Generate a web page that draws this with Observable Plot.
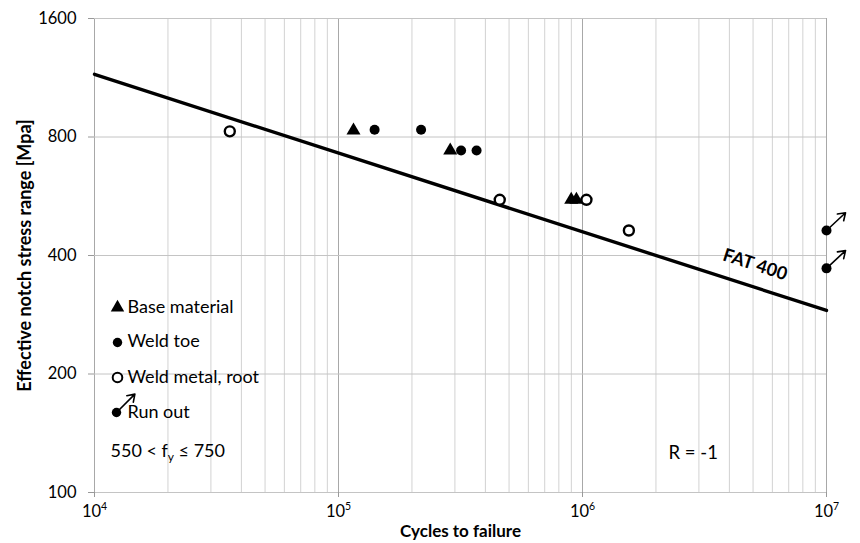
<!DOCTYPE html>
<html><head><meta charset="utf-8">
<script src="https://cdn.jsdelivr.net/npm/d3@7"></script>
<script src="https://cdn.jsdelivr.net/npm/@observablehq/plot@0.6"></script>
<style>html,body{margin:0;padding:0;background:#fff;}</style>
</head><body><div id="chart"></div>
<script>
// ---- data ----
const baseN = [115200, 287000, 899000, 944000];
const baseS = [831, 739, 554, 554];
const toeN = [140600, 218000, 318000, 368000];
const toeS = [835, 835, 739, 739];
const rootN = [35850, 458000, 1038000, 1549000];
const rootS = [827, 554, 554, 463];
const runoutN = [1e7, 1e7];
const runoutS = [463, 371];
const fatN = [1e4, 1e7];
const fatS = [1154, 290];
const xDecades = [1e4, 1e5, 1e6, 1e7];
const xMinor = [2e4,3e4,4e4,5e4,6e4,7e4,8e4,9e4,2e5,3e5,4e5,5e5,6e5,7e5,8e5,9e5,2e6,3e6,4e6,5e6,6e6,7e6,8e6,9e6];
const yTicks = [100, 200, 400, 800, 1600];
const legendLabels = ["Base material", "Weld toe", "Weld metal, root", "Run out"];

const zip = (N, S) => N.map((n, i) => ({n, s: S[i]}));
const base = zip(baseN, baseS), toe = zip(toeN, toeS), root = zip(rootN, rootS),
      runout = zip(runoutN, runoutS), fat = zip(fatN, fatS);
const sup = {"4":"⁴","5":"⁵","6":"⁶","7":"⁷"};

const arrowShape = {draw(ctx, l) {
  ctx.moveTo(0, 0); ctx.lineTo(0, -l);
  ctx.moveTo(-4.6, -l + 6.8); ctx.lineTo(0, -l); ctx.lineTo(4.6, -l + 6.8);
}};

const legendRowDy = [289, 323, 359, 394];
const legendText = (label, i) => Plot.text([label], {frameAnchor: "top-left", dx: 33, dy: legendRowDy[i], text: d => d,
  textAnchor: "start", lineAnchor: "middle", fontSize: 18});

const font = "Lato, 'Open Sans', sans-serif";
const chart = Plot.plot({
  width: 860, height: 543,
  marginLeft: 94, marginRight: 34, marginTop: 18, marginBottom: 51,
  style: {fontFamily: font, fontSize: "16px", color: "black", background: "white"},
  x: {type: "log", domain: [1e4, 1e7]},
  y: {type: "log", base: 2, domain: [100, 1600]},
  marks: [
    Plot.ruleX(xMinor, {stroke: "#d2d2d2", strokeWidth: 1}),
    Plot.ruleX(xDecades, {stroke: "#a8a8a8", strokeWidth: 1}),
    Plot.ruleY(yTicks, {stroke: "#c4c4c4", strokeWidth: 1}),
    Plot.axisX(xDecades, {tickFormat: d => "10" + sup[String(Math.round(Math.log10(d)))], tickSize: 5, tickPadding: 8, stroke: "#999", label: null, fontSize: 16.5}),
    Plot.axisY(yTicks, {tickFormat: d => String(d), tickSize: 6, tickPadding: 12, stroke: "#999", label: null, fontSize: 16.5}),
    Plot.line(fat, {x: "n", y: "s", stroke: "black", strokeWidth: 3.4}),
    Plot.text(["FAT 400"], {x: 5.1e6, y: 379, text: d => d, rotate: 18, fontWeight: "bold", fontSize: 18}),
    Plot.vector(runout, {x: "n", y: "s", length: 26, rotate: 47, anchor: "start", shape: arrowShape, stroke: "black", strokeWidth: 1.6}),
    Plot.dot(base, {x: "n", y: "s", symbol: "triangle", r: 5.2, fill: "black", stroke: "none"}),
    Plot.dot(toe, {x: "n", y: "s", r: 5, fill: "black", stroke: "none"}),
    Plot.dot(root, {x: "n", y: "s", r: 5, fill: "white", stroke: "black", strokeWidth: 2.4}),
    Plot.dot(runout, {x: "n", y: "s", r: 5, fill: "black", stroke: "none"}),
    // legend inside the frame
    Plot.dot([0], {frameAnchor: "top-left", dx: 23, dy: 289, symbol: "triangle", r: 5, fill: "black", stroke: "none"}),
    Plot.dot([0], {frameAnchor: "top-left", dx: 23, dy: 324, r: 4.7, fill: "black", stroke: "none"}),
    Plot.dot([0], {frameAnchor: "top-left", dx: 23, dy: 359, r: 4.8, fill: "white", stroke: "black", strokeWidth: 2}),
    Plot.vector([0], {frameAnchor: "top-left", dx: 22, dy: 394, length: 26, rotate: 45, anchor: "start", shape: arrowShape, stroke: "black", strokeWidth: 1.6}),
    Plot.dot([0], {frameAnchor: "top-left", dx: 22, dy: 394, r: 4.7, fill: "black", stroke: "none"}),
    ...legendLabels.map(legendText),
    Plot.text(["550 < fy ≤ 750"], {frameAnchor: "top-left", dx: 16, dy: 433, text: d => d, textAnchor: "start", lineAnchor: "middle", fontSize: 18}),
    Plot.text(["R = -1"], {frameAnchor: "top-left", dx: 574, dy: 435, text: d => d, textAnchor: "start", lineAnchor: "middle", fontSize: 18.5}),
    Plot.text(["Cycles to failure"], {frameAnchor: "bottom", dy: 39, text: d => d, textAnchor: "middle", lineAnchor: "middle", fontWeight: "bold", fontSize: 17}),
    Plot.text(["Effective notch stress range [Mpa]"], {frameAnchor: "left", dx: -69, rotate: -90, text: d => d, textAnchor: "middle", lineAnchor: "middle", fontWeight: "bold", fontSize: 18})
  ]
});
document.getElementById("chart").appendChild(chart);

// subscript / superscript formatting of a few labels
d3.select(chart).selectAll("text").each(function() {
  const t = this.textContent;
  if (t === "550 < fy ≤ 750") {
    const el = d3.select(this); el.text("");
    el.append("tspan").text("550 < f");
    el.append("tspan").attr("font-size", 12).attr("dy", 4).text("y");
    el.append("tspan").attr("dy", -4).text(" ≤ 750");
  }
  if (/^10[⁴⁵⁶⁷]$/.test(t)) {
    const map = {"⁴":"4","⁵":"5","⁶":"6","⁷":"7"};
    const el = d3.select(this); el.text("");
    el.append("tspan").text("10");
    el.append("tspan").attr("font-size", 10.5).attr("dy", -7).text(map[t[2]]);
  }
});
</script></body></html>
